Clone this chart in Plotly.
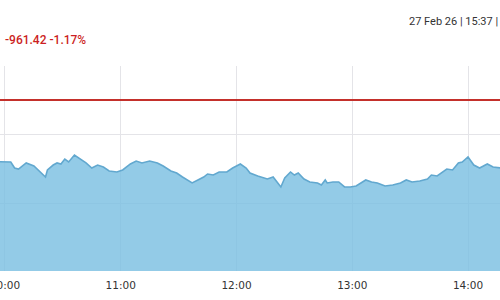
import plotly.graph_objects as go

DAY = "2026-02-27 "

times = ["09:55", "09:57", "10:03", "10:05", "10:07", "10:11", "10:15", "10:18", "10:21", "10:22",
         "10:25", "10:27", "10:29", "10:31", "10:33", "10:36", "10:39", "10:42", "10:45", "10:48",
         "10:51", "10:54", "10:58", "11:01", "11:05", "11:08", "11:11", "11:15", "11:19", "11:22",
         "11:26", "11:29", "11:32", "11:37", "11:40", "11:43", "11:45", "11:48", "11:51", "11:55",
         "11:58", "12:02", "12:05", "12:07", "12:11", "12:16", "12:19", "12:21", "12:23", "12:25",
         "12:28", "12:30", "12:32", "12:35", "12:38", "12:42", "12:44", "12:46", "12:47", "12:50",
         "12:53", "12:56", "12:59", "13:02", "13:07", "13:10", "13:13", "13:17", "13:21", "13:25",
         "13:28", "13:31", "13:35", "13:39", "13:41", "13:44", "13:47", "13:49", "13:52", "13:55",
         "13:57", "14:00", "14:03", "14:06", "14:10", "14:13", "14:17"]

prices = [81288, 81278, 81274, 81187, 81172, 81260, 81216, 81129, 81056, 81158,
          81230, 81260, 81245, 81317, 81274, 81375, 81317, 81260, 81187, 81230,
          81201, 81143, 81129, 81158, 81245, 81288, 81260, 81288, 81260, 81216,
          81143, 81114, 81056, 80970, 81013, 81056, 81100, 81085, 81129, 81129,
          81187, 81245, 81187, 81114, 81071, 81027, 81056, 80984, 80912, 81042,
          81129, 81085, 81114, 81027, 80984, 80970, 80941, 81013, 80970, 80984,
          80984, 80912, 80912, 80926, 81013, 80984, 80970, 80926, 80941, 80970,
          81013, 80984, 80999, 81027, 81085, 81071, 81129, 81172, 81158, 81260,
          81274, 81347, 81230, 81187, 81245, 81201, 81187]

prev_close = 82173
change_text = "-961.42 -1.17%"
stamp_text = "27 Feb 26 | 15:37 |"
hour_ticks = ["10:00", "11:00", "12:00", "13:00", "14:00"]

x = [DAY + t for t in times]

fig = go.Figure()
fig.add_trace(go.Scatter(
    x=x, y=prices, mode="lines", fill="tozeroy",
    line=dict(color="#62A8CF", width=1.6),
    fillcolor="rgba(120,190,225,0.8)",
    hoverinfo="skip", showlegend=False,
))

fig.add_shape(type="line", xref="paper", x0=0, x1=1, yref="y", y0=prev_close, y1=prev_close,
              line=dict(color="#C4302B", width=2))

fig.add_annotation(text=change_text, xref="paper", yref="paper", x=0.006, y=1.127,
                   xanchor="left", yanchor="middle", showarrow=False,
                   font=dict(family="Roboto", size=12, color="#CC1F24", weight=500))
fig.add_annotation(text=stamp_text, xref="paper", yref="paper", x=1.0, y=1.215,
                   xanchor="right", yanchor="middle", showarrow=False,
                   font=dict(family="Roboto", size=11, color="#333333"))

fig.update_layout(
    width=500, height=300,
    margin=dict(l=0, r=0, t=66, b=29, autoexpand=False),
    paper_bgcolor="white", plot_bgcolor="white",
    xaxis=dict(
        range=[DAY + "09:57:25", DAY + "14:16:35"],
        tickvals=[DAY + h for h in hour_ticks], ticktext=hour_ticks,
        showgrid=True, gridcolor="#E4E4E8", gridwidth=1,
        zeroline=False, showline=False, ticks="", automargin=False,
        ticklabeloverflow="allow", ticklabelstandoff=6,
        tickfont=dict(family="DejaVu Sans", size=10.5, color="#333333"),
    ),
    yaxis=dict(
        range=[79693, 82666], tick0=82666, dtick=1000, automargin=False,
        showgrid=True, gridcolor="#E4E4E8", gridwidth=1,
        zeroline=False, showline=False, showticklabels=False, ticks="",
    ),
)

fig.write_html("out.html")
